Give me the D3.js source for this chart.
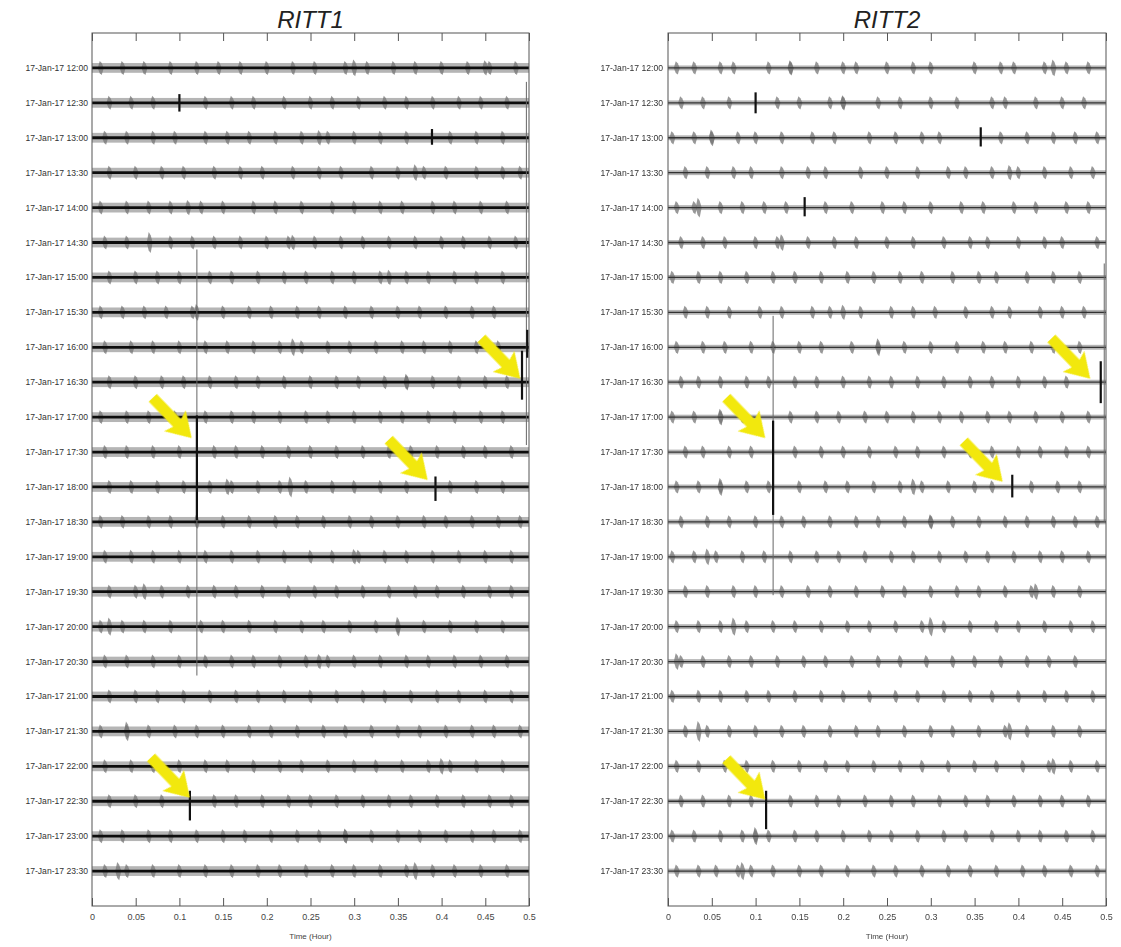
<!DOCTYPE html>
<html lang="en">
<head>
    <meta charset="UTF-8">
    <title>RITT1 / RITT2</title>
    <script src="https://d3js.org/d3.v7.min.js"></script>
    <style>
        body { margin: 0; background: #fff; }
        text { font-family: "Liberation Sans", Arial, sans-serif; }
    </style>
</head>
<body>
<svg id="chart" width="1121" height="947"></svg>
<script>
    // row labels (one trace every 30 min)
    const rowLabels = [
        '17-Jan-17 12:00', '17-Jan-17 12:30', '17-Jan-17 13:00', '17-Jan-17 13:30',
        '17-Jan-17 14:00', '17-Jan-17 14:30', '17-Jan-17 15:00', '17-Jan-17 15:30',
        '17-Jan-17 16:00', '17-Jan-17 16:30', '17-Jan-17 17:00', '17-Jan-17 17:30',
        '17-Jan-17 18:00', '17-Jan-17 18:30', '17-Jan-17 19:00', '17-Jan-17 19:30',
        '17-Jan-17 20:00', '17-Jan-17 20:30', '17-Jan-17 21:00', '17-Jan-17 21:30',
        '17-Jan-17 22:00', '17-Jan-17 22:30', '17-Jan-17 23:00', '17-Jan-17 23:30'
    ];
    const xTicks = [0, 0.05, 0.1, 0.15, 0.2, 0.25, 0.3, 0.35, 0.4, 0.45, 0.5];
    const xTickLabels = ['0', '0.05', '0.1', '0.15', '0.2', '0.25', '0.3', '0.35', '0.4', '0.45', '0.5'];
    const stations = ['RITT1', 'RITT2'];

    // small noise bursts per trace (time in hours)
    const ritt1Bursts = [
        [0.01, 0.035, 0.06, 0.09, 0.12, 0.145, 0.17, 0.2, 0.23, 0.255, 0.29, 0.315, 0.345, 0.37, 0.4, 0.43, 0.455, 0.485],
        [0.02, 0.045, 0.07, 0.13, 0.16, 0.185, 0.22, 0.25, 0.275, 0.305, 0.335, 0.36, 0.39, 0.42, 0.445, 0.475],
        [0.015, 0.04, 0.07, 0.095, 0.13, 0.155, 0.18, 0.21, 0.24, 0.27, 0.3, 0.33, 0.36, 0.41, 0.44, 0.47],
        [0.02, 0.05, 0.08, 0.105, 0.14, 0.17, 0.195, 0.23, 0.26, 0.285, 0.32, 0.35, 0.38, 0.405, 0.44, 0.47, 0.49],
        [0.01, 0.04, 0.065, 0.09, 0.125, 0.15, 0.185, 0.21, 0.24, 0.275, 0.3, 0.33, 0.355, 0.39, 0.415, 0.445, 0.475],
        [0.015, 0.04, 0.09, 0.115, 0.14, 0.17, 0.2, 0.225, 0.255, 0.285, 0.31, 0.34, 0.37, 0.4, 0.425, 0.455, 0.485],
        [0.02, 0.05, 0.075, 0.1, 0.135, 0.16, 0.19, 0.22, 0.245, 0.275, 0.3, 0.33, 0.36, 0.385, 0.415, 0.44, 0.47],
        [0.01, 0.035, 0.06, 0.085, 0.115, 0.15, 0.18, 0.205, 0.235, 0.26, 0.29, 0.32, 0.35, 0.375, 0.405, 0.435, 0.46],
        [0.015, 0.045, 0.07, 0.1, 0.13, 0.155, 0.185, 0.215, 0.24, 0.27, 0.295, 0.325, 0.355, 0.38, 0.41, 0.44, 0.465],
        [0.02, 0.05, 0.08, 0.105, 0.135, 0.165, 0.19, 0.22, 0.25, 0.28, 0.305, 0.335, 0.36, 0.39, 0.42, 0.45, 0.475],
        [0.01, 0.04, 0.065, 0.095, 0.13, 0.16, 0.185, 0.215, 0.245, 0.27, 0.3, 0.33, 0.355, 0.385, 0.415, 0.445, 0.47],
        [0.015, 0.04, 0.07, 0.1, 0.14, 0.165, 0.195, 0.225, 0.25, 0.28, 0.31, 0.34, 0.365, 0.395, 0.425, 0.45, 0.48],
        [0.02, 0.045, 0.075, 0.105, 0.135, 0.16, 0.19, 0.215, 0.245, 0.275, 0.3, 0.33, 0.36, 0.41, 0.44, 0.47],
        [0.01, 0.035, 0.065, 0.09, 0.12, 0.15, 0.18, 0.21, 0.235, 0.265, 0.295, 0.32, 0.35, 0.38, 0.405, 0.435, 0.465, 0.49],
        [0.015, 0.045, 0.07, 0.1, 0.13, 0.16, 0.19, 0.22, 0.25, 0.275, 0.305, 0.335, 0.36, 0.39, 0.42, 0.45, 0.48],
        [0.02, 0.05, 0.08, 0.11, 0.14, 0.165, 0.195, 0.225, 0.255, 0.28, 0.31, 0.34, 0.37, 0.395, 0.425, 0.455, 0.48],
        [0.01, 0.035, 0.06, 0.09, 0.125, 0.15, 0.18, 0.21, 0.24, 0.265, 0.295, 0.325, 0.35, 0.38, 0.41, 0.44, 0.47],
        [0.015, 0.04, 0.07, 0.1, 0.13, 0.16, 0.185, 0.215, 0.245, 0.27, 0.3, 0.33, 0.36, 0.385, 0.415, 0.445, 0.475],
        [0.02, 0.05, 0.075, 0.105, 0.135, 0.165, 0.19, 0.22, 0.25, 0.28, 0.31, 0.335, 0.365, 0.395, 0.42, 0.45, 0.48],
        [0.01, 0.04, 0.065, 0.095, 0.12, 0.15, 0.18, 0.205, 0.235, 0.265, 0.29, 0.32, 0.35, 0.375, 0.405, 0.435, 0.46, 0.49],
        [0.015, 0.045, 0.07, 0.1, 0.13, 0.155, 0.185, 0.215, 0.24, 0.27, 0.3, 0.325, 0.355, 0.385, 0.41, 0.44, 0.47],
        [0.02, 0.05, 0.08, 0.14, 0.165, 0.195, 0.225, 0.25, 0.28, 0.31, 0.34, 0.365, 0.395, 0.425, 0.455, 0.48],
        [0.01, 0.035, 0.065, 0.09, 0.12, 0.15, 0.175, 0.205, 0.235, 0.26, 0.29, 0.32, 0.35, 0.375, 0.405, 0.435, 0.46, 0.49],
        [0.015, 0.04, 0.07, 0.1, 0.13, 0.16, 0.19, 0.215, 0.245, 0.275, 0.3, 0.33, 0.36, 0.39, 0.415, 0.445, 0.475]
    ];
    const ritt2Bursts = [
        [0.01, 0.03, 0.06, 0.075, 0.115, 0.14, 0.17, 0.2, 0.215, 0.25, 0.28, 0.3, 0.35, 0.38, 0.395, 0.43, 0.455, 0.48],
        [0.015, 0.04, 0.07, 0.125, 0.15, 0.185, 0.2, 0.24, 0.265, 0.3, 0.33, 0.37, 0.385, 0.42, 0.45, 0.475],
        [0.005, 0.03, 0.05, 0.08, 0.1, 0.13, 0.165, 0.19, 0.23, 0.26, 0.29, 0.31, 0.38, 0.41, 0.44, 0.465, 0.49],
        [0.02, 0.045, 0.075, 0.095, 0.13, 0.16, 0.18, 0.22, 0.25, 0.285, 0.32, 0.34, 0.37, 0.4, 0.43, 0.46, 0.485],
        [0.01, 0.03, 0.06, 0.085, 0.11, 0.135, 0.18, 0.21, 0.245, 0.27, 0.3, 0.335, 0.36, 0.395, 0.42, 0.455, 0.48],
        [0.015, 0.04, 0.065, 0.1, 0.125, 0.16, 0.19, 0.215, 0.25, 0.28, 0.315, 0.345, 0.365, 0.4, 0.43, 0.45, 0.49],
        [0.005, 0.035, 0.06, 0.09, 0.12, 0.145, 0.175, 0.205, 0.235, 0.265, 0.29, 0.325, 0.355, 0.375, 0.41, 0.44, 0.47],
        [0.02, 0.045, 0.07, 0.105, 0.13, 0.165, 0.185, 0.22, 0.255, 0.28, 0.305, 0.34, 0.37, 0.39, 0.425, 0.45, 0.475],
        [0.01, 0.04, 0.065, 0.095, 0.12, 0.15, 0.175, 0.21, 0.24, 0.27, 0.3, 0.33, 0.36, 0.385, 0.415, 0.44, 0.47],
        [0.015, 0.035, 0.06, 0.09, 0.115, 0.145, 0.17, 0.2, 0.23, 0.255, 0.285, 0.315, 0.345, 0.37, 0.4, 0.43, 0.455],
        [0.005, 0.03, 0.06, 0.085, 0.14, 0.17, 0.195, 0.225, 0.25, 0.28, 0.31, 0.335, 0.365, 0.39, 0.42, 0.45, 0.48],
        [0.02, 0.04, 0.07, 0.095, 0.145, 0.175, 0.2, 0.23, 0.26, 0.285, 0.315, 0.345, 0.37, 0.4, 0.425, 0.455, 0.48],
        [0.01, 0.035, 0.06, 0.09, 0.115, 0.15, 0.18, 0.205, 0.235, 0.265, 0.29, 0.32, 0.35, 0.37, 0.415, 0.445, 0.47],
        [0.015, 0.045, 0.07, 0.1, 0.13, 0.155, 0.185, 0.215, 0.24, 0.27, 0.3, 0.325, 0.355, 0.385, 0.41, 0.44, 0.465, 0.49],
        [0.005, 0.03, 0.055, 0.085, 0.11, 0.14, 0.17, 0.195, 0.225, 0.255, 0.28, 0.31, 0.34, 0.365, 0.395, 0.425, 0.45, 0.48],
        [0.02, 0.045, 0.075, 0.1, 0.13, 0.16, 0.185, 0.215, 0.245, 0.27, 0.3, 0.33, 0.355, 0.385, 0.415, 0.44, 0.47],
        [0.01, 0.035, 0.06, 0.09, 0.12, 0.145, 0.175, 0.205, 0.23, 0.26, 0.29, 0.315, 0.345, 0.375, 0.4, 0.43, 0.46, 0.485],
        [0.015, 0.04, 0.07, 0.095, 0.125, 0.155, 0.18, 0.21, 0.24, 0.265, 0.295, 0.325, 0.35, 0.38, 0.41, 0.435, 0.465],
        [0.005, 0.035, 0.06, 0.09, 0.115, 0.145, 0.175, 0.2, 0.23, 0.26, 0.285, 0.315, 0.345, 0.37, 0.4, 0.43, 0.455, 0.485],
        [0.02, 0.045, 0.07, 0.1, 0.13, 0.155, 0.185, 0.215, 0.24, 0.27, 0.3, 0.325, 0.355, 0.385, 0.41, 0.44, 0.47],
        [0.01, 0.035, 0.065, 0.09, 0.12, 0.15, 0.18, 0.205, 0.235, 0.265, 0.29, 0.32, 0.35, 0.375, 0.405, 0.435, 0.46, 0.49],
        [0.015, 0.04, 0.07, 0.095, 0.14, 0.17, 0.195, 0.225, 0.255, 0.28, 0.31, 0.34, 0.365, 0.395, 0.425, 0.45, 0.48],
        [0.005, 0.03, 0.06, 0.085, 0.1, 0.115, 0.145, 0.17, 0.2, 0.23, 0.255, 0.285, 0.315, 0.34, 0.37, 0.4, 0.425, 0.455, 0.485],
        [0.01, 0.035, 0.055, 0.08, 0.095, 0.12, 0.15, 0.175, 0.205, 0.235, 0.26, 0.29, 0.32, 0.345, 0.375, 0.405, 0.43, 0.46, 0.49]
    ];

    // larger bursts: [row, time, amplitude in rows]
    const ritt1Strong = [
        [0, 0.3, 0.24], [0, 0.45, 0.22], [2, 0.26, 0.22], [3, 0.37, 0.24], [4, 0.11, 0.22],
        [5, 0.066, 0.3], [5, 0.23, 0.22], [6, 0.34, 0.22], [7, 0.12, 0.24], [8, 0.23, 0.26],
        [9, 0.36, 0.24], [12, 0.227, 0.3], [12, 0.155, 0.24], [14, 0.3, 0.22], [15, 0.06, 0.24],
        [16, 0.02, 0.26], [16, 0.35, 0.28], [17, 0.26, 0.22], [19, 0.04, 0.28], [20, 0.4, 0.24],
        [22, 0.29, 0.22], [23, 0.03, 0.26], [23, 0.37, 0.26]
    ];
    const ritt2Strong = [
        [0, 0.14, 0.22], [0, 0.44, 0.24], [1, 0.2, 0.22], [2, 0.05, 0.24], [3, 0.39, 0.22],
        [4, 0.035, 0.28], [5, 0.13, 0.24], [7, 0.2, 0.22], [8, 0.24, 0.26], [10, 0.06, 0.24],
        [12, 0.06, 0.26], [12, 0.28, 0.24], [13, 0.3, 0.22], [14, 0.045, 0.24], [15, 0.42, 0.24],
        [16, 0.075, 0.26], [16, 0.3, 0.28], [17, 0.01, 0.24], [19, 0.035, 0.3], [19, 0.39, 0.26],
        [20, 0.44, 0.24], [22, 0.1, 0.26], [23, 0.085, 0.26]
    ];

    // seismic events: [row, time, rows above, rows below, kind]
    const ritt1Events = [
        [11, 0.12, 5.8, 6.4, 'thin'], [11, 0.12, 1.05, 1.95, 'core'],
        [9, 0.497, 8.6, 1.8, 'thin'], [9, 0.492, 0.9, 0.5, 'core'], [8, 0.498, 0.5, 0.3, 'core'],
        [12, 0.393, 0.3, 0.4, 'core'], [21, 0.112, 0.3, 0.55, 'core'],
        [1, 0.1, 0.25, 0.25, 'core'], [2, 0.389, 0.25, 0.2, 'core']
    ];
    const ritt2Events = [
        [11, 0.12, 3.9, 4.1, 'thin'], [11, 0.12, 0.9, 1.8, 'core'],
        [9, 0.498, 3.4, 4.0, 'thin'], [9, 0.494, 0.6, 0.6, 'core'],
        [12, 0.393, 0.35, 0.3, 'core'], [21, 0.112, 0.3, 0.8, 'core'],
        [1, 0.1, 0.3, 0.3, 'core'], [2, 0.357, 0.3, 0.25, 'core'], [4, 0.156, 0.3, 0.25, 'core']
    ];

    // yellow arrows, tip at [time, row]
    const ritt1Arrows = [[0.49, 8.9], [0.114, 10.6], [0.384, 11.8], [0.112, 20.9]];
    const ritt2Arrows = [[0.482, 8.9], [0.111, 10.6], [0.382, 11.85], [0.111, 20.95]];

    const svg = d3.select('#chart');
    const plotTop = 33, plotBottom = 906;

    const y = d3.scaleLinear().domain([-1, rowLabels.length]).range([plotTop, plotBottom]);
    const step = y(1) - y(0);

    const panels = [
        { name: stations[0], x0: 92, x1: 529, labelX: 88, bursts: ritt1Bursts, strong: ritt1Strong,
          events: ritt1Events, arrows: ritt1Arrows, band: 0.14, line: 2.8, lineColor: '#111', burstAmp: 0.2 },
        { name: stations[1], x0: 668, x1: 1106, labelX: 663, bursts: ritt2Bursts, strong: ritt2Strong,
          events: ritt2Events, arrows: ritt2Arrows, band: 0.07, line: 1.3, lineColor: '#333', burstAmp: 0.19 }
    ];

    const defs = svg.append('defs');
    defs.append('filter').attr('id', 'soft')
        .append('feGaussianBlur').attr('stdDeviation', 0.6);

    const arrowShape = d3.line()([[0, 0], [-24, -15], [-21, -5.5], [-56, -5.5], [-56, 5.5], [-21, 5.5], [-24, 15]]) + 'Z';

    panels.forEach(p => {
        const x = d3.scaleLinear().domain([0, 0.5]).range([p.x0, p.x1]);
        const g = svg.append('g');

        // title
        g.append('text')
            .attr('x', (p.x0 + p.x1) / 2).attr('y', 28)
            .attr('text-anchor', 'middle')
            .attr('font-size', 24).attr('font-style', 'italic')
            .attr('fill', '#222')
            .text(p.name);

        // traces
        const traces = g.append('g').attr('filter', 'url(#soft)');
        rowLabels.forEach((lab, i) => {
            const yc = y(i);
            traces.append('rect')
                .attr('x', x(0)).attr('width', x(0.5) - x(0))
                .attr('y', yc - p.band * step).attr('height', 2 * p.band * step)
                .attr('fill', '#a3a3a3').attr('opacity', 0.8);

            const spindles = p.bursts[i].map(t => [t, p.burstAmp])
                .concat(p.strong.filter(d => d[0] === i).map(d => [d[1], d[2]]));
            traces.selectAll(null)
                .data(spindles)
                .join('path')
                .attr('d', d => {
                    const cx = x(d[0]), h = d[1] * step;
                    return `M${cx - 3},${yc} L${cx - 1},${yc - h} L${cx + 1},${yc - h * 0.7} L${cx + 3},${yc} L${cx + 1},${yc + h} L${cx - 1},${yc + h * 0.75} Z`;
                })
                .attr('fill', '#767676').attr('opacity', 0.75);

            traces.append('line')
                .attr('x1', x(0)).attr('x2', x(0.5))
                .attr('y1', yc).attr('y2', yc)
                .attr('stroke', p.lineColor).attr('stroke-width', p.line);
        });

        // events
        g.selectAll('.ev')
            .data(p.events)
            .join('line')
            .attr('x1', d => x(d[1])).attr('x2', d => x(d[1]))
            .attr('y1', d => y(d[0] - d[2])).attr('y2', d => y(d[0] + d[3]))
            .attr('stroke', d => d[4] === 'thin' ? '#666' : '#111')
            .attr('stroke-width', d => d[4] === 'thin' ? 1 : 2.2);

        // frame
        g.append('rect')
            .attr('x', p.x0).attr('y', plotTop)
            .attr('width', p.x1 - p.x0).attr('height', plotBottom - plotTop)
            .attr('fill', 'none').attr('stroke', '#555').attr('stroke-width', 1);

        // x axis (inward ticks, top and bottom)
        const xAxis = d3.axisBottom(x).tickValues(xTicks).tickSize(-8)
            .tickFormat((d, i) => xTickLabels[i]).tickPadding(8);
        const ax = g.append('g').attr('transform', `translate(0,${plotBottom})`).call(xAxis);
        ax.select('.domain').remove();
        ax.selectAll('line').attr('stroke', '#555');
        ax.selectAll('text').attr('font-size', 9).attr('fill', '#444')
            .attr('font-family', '"Liberation Sans", Arial, sans-serif');

        const xTop = d3.axisTop(x).tickValues(xTicks).tickSize(-8).tickFormat('');
        const axT = g.append('g').attr('transform', `translate(0,${plotTop})`).call(xTop);
        axT.select('.domain').remove();
        axT.selectAll('line').attr('stroke', '#555');

        g.append('text')
            .attr('x', (p.x0 + p.x1) / 2).attr('y', 939)
            .attr('text-anchor', 'middle').attr('font-size', 8).attr('fill', '#444')
            .text('Time (Hour)');

        // row labels
        g.selectAll('.rl')
            .data(rowLabels)
            .join('text')
            .attr('x', p.labelX).attr('y', (d, i) => y(i))
            .attr('dy', '0.35em')
            .attr('text-anchor', 'end')
            .attr('font-size', 8.6).attr('fill', '#333')
            .text(d => d);

        // arrows
        g.selectAll('.arrow')
            .data(p.arrows)
            .join('path')
            .attr('d', arrowShape)
            .attr('transform', d => `translate(${x(d[0])},${y(d[1])}) rotate(46)`)
            .attr('fill', '#f2e808')
            .attr('filter', 'url(#soft)');
    });
</script>
</body>
</html>
